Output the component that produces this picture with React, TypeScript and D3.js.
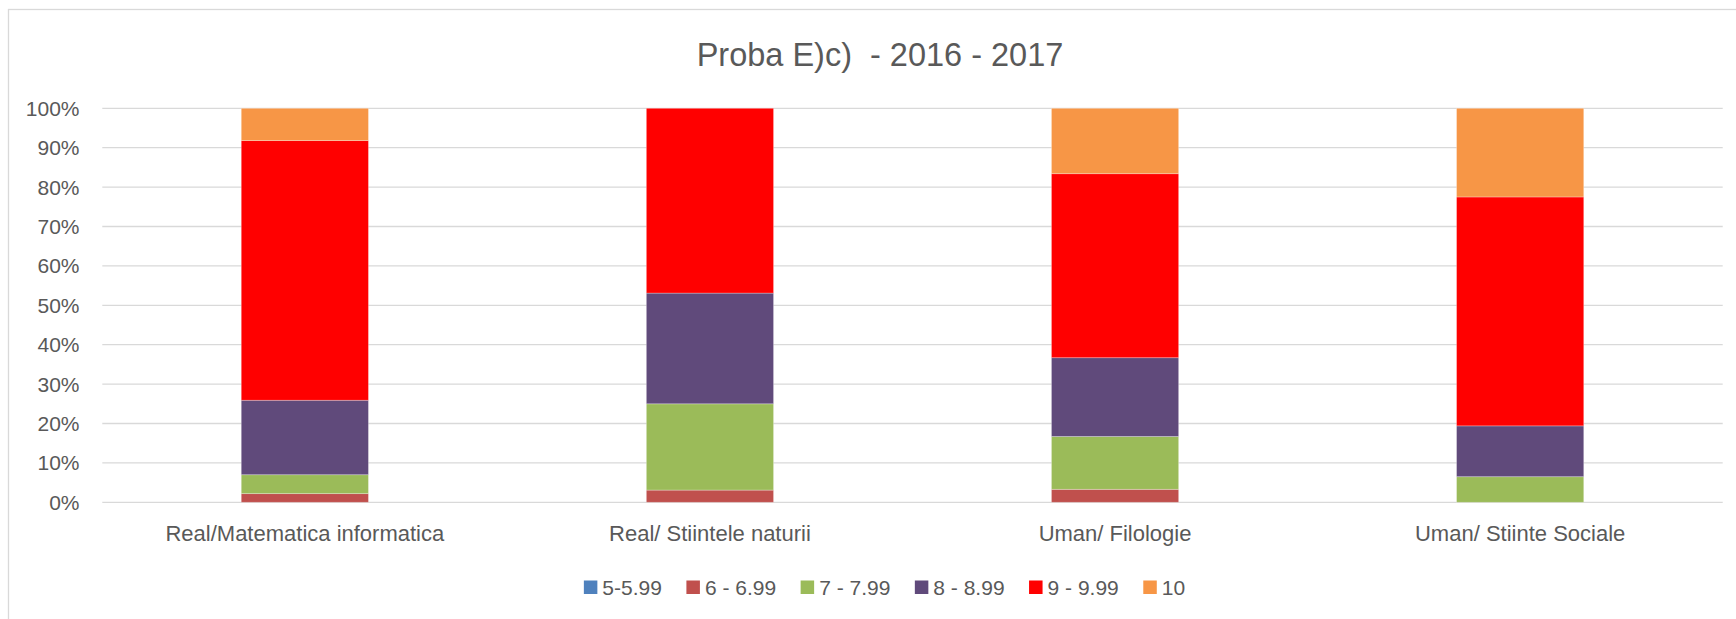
import React, { useRef, useEffect } from "react";
import * as d3 from "d3";

const categories = [
  "Real/Matematica informatica",
  "Real/ Stiintele naturii",
  "Uman/ Filologie",
  "Uman/ Stiinte Sociale",
];
const seriesNames = ["5-5.99", "6 - 6.99", "7 - 7.99", "8 - 8.99", "9 - 9.99", "10"];
const seriesColors = ["#4F81BD", "#C0504D", "#9BBB59", "#604A7B", "#FF0000", "#F79646"];

// percentages
const s5 = [0, 0, 0, 0];
const s6 = [2.2, 3.1, 3.3, 0];
const s7 = [4.8, 21.9, 13.4, 6.5];
const s8 = [18.9, 28.1, 20.0, 12.9];
const s9 = [65.9, 46.9, 46.7, 58.1];
const s10 = [8.2, 0, 16.6, 22.5];
const yTicks = [0, 0.1, 0.2, 0.3, 0.4, 0.5, 0.6, 0.7, 0.8, 0.9, 1];

const title = "Proba E)c)  - 2016 - 2017";

export default function App() {
  const ref = useRef<SVGSVGElement>(null);

  useEffect(() => {
    document.body.style.margin = "0";
    const width = 1736;
    const height = 619;
    const font = "'Liberation Sans', Arial, sans-serif";
    const textColor = "#595959";
    const gridColor = "#D9D9D9";

    const svg = d3.select(ref.current);
    svg.selectAll("*").remove();
    svg.attr("width", width).attr("height", height).style("display", "block");

    // chart area border
    svg
      .append("rect")
      .attr("x", 8.5)
      .attr("y", 9.5)
      .attr("width", width + 50)
      .attr("height", height + 50)
      .attr("fill", "#fff")
      .attr("stroke", gridColor)
      .attr("stroke-width", 1.3);

    const plotLeft = 102.3;
    const plotRight = 1722.7;
    const plotTop = 108.3;
    const plotBottom = 502.3;

    const x = d3
      .scaleBand()
      .domain(categories)
      .range([plotLeft, plotRight])
      .paddingInner(0.686)
      .paddingOuter(0.343);
    const y = d3.scaleLinear().domain([0, 1]).range([plotBottom, plotTop]);

    // title
    svg
      .append("text")
      .attr("x", 880)
      .attr("y", 65.7)
      .attr("text-anchor", "middle")
      .attr("font-family", font)
      .attr("font-size", 32.5)
      .attr("fill", textColor)
      .style("white-space", "pre")
      .text(title);

    // gridlines
    svg
      .append("g")
      .selectAll("line")
      .data(yTicks)
      .join("line")
      .attr("x1", plotLeft)
      .attr("x2", plotRight)
      .attr("y1", (d) => y(d))
      .attr("y2", (d) => y(d))
      .attr("stroke", gridColor)
      .attr("stroke-width", 1.3);

    // y tick labels
    svg
      .append("g")
      .selectAll("text")
      .data(yTicks)
      .join("text")
      .attr("x", 79.5)
      .attr("y", (d) => y(d))
      .attr("dy", "0.36em")
      .attr("text-anchor", "end")
      .attr("font-family", font)
      .attr("font-size", 21)
      .attr("fill", textColor)
      .text((d) => d3.format(".0%")(d));

    // stacked bars
    const rows = categories.map((c, i) => ({
      cat: c,
      [seriesNames[0]]: s5[i],
      [seriesNames[1]]: s6[i],
      [seriesNames[2]]: s7[i],
      [seriesNames[3]]: s8[i],
      [seriesNames[4]]: s9[i],
      [seriesNames[5]]: s10[i],
    }));
    const stacked = d3
      .stack<any>()
      .keys(seriesNames)
      .offset(d3.stackOffsetExpand)(rows);

    const color = d3.scaleOrdinal<string>().domain(seriesNames).range(seriesColors);

    svg
      .append("g")
      .selectAll("g")
      .data(stacked)
      .join("g")
      .attr("fill", (d) => color(d.key))
      .selectAll("rect")
      .data((d) => d.filter((p) => p[1] - p[0] > 0))
      .join("rect")
      .attr("x", (d) => x(d.data.cat)!)
      .attr("width", x.bandwidth())
      .attr("y", (d) => y(d[1]))
      .attr("height", (d) => y(d[0]) - y(d[1]))
      .attr("stroke", "#fff")
      .attr("stroke-opacity", 0.35)
      .attr("stroke-width", 0.8);

    // category labels
    svg
      .append("g")
      .selectAll("text")
      .data(categories)
      .join("text")
      .attr("x", (d) => x(d)! + x.bandwidth() / 2)
      .attr("y", 540.5)
      .attr("text-anchor", "middle")
      .attr("font-family", font)
      .attr("font-size", 22)
      .attr("fill", textColor)
      .text((d) => d);

    // legend
    const legend = svg.append("g");
    const marker = 13.5;
    let cursor = 0;
    seriesNames.forEach((name, i) => {
      const item = legend.append("g").attr("transform", `translate(${cursor},0)`);
      item
        .append("rect")
        .attr("x", 0)
        .attr("y", 580.5)
        .attr("width", marker)
        .attr("height", marker)
        .attr("fill", seriesColors[i]);
      const t = item
        .append("text")
        .attr("x", marker + 5)
        .attr("y", 594.5)
        .attr("font-family", font)
        .attr("font-size", 21)
        .attr("fill", textColor)
        .text(name);
      const w = (t.node() as SVGTextElement).getComputedTextLength();
      cursor += marker + 5 + w + (i < seriesNames.length - 1 ? 24.5 : 0);
    });
    legend.attr("transform", `translate(${884.5 - cursor / 2},0)`);
  }, []);

  return (
    <div>
      <svg ref={ref} />
    </div>
  );
}
